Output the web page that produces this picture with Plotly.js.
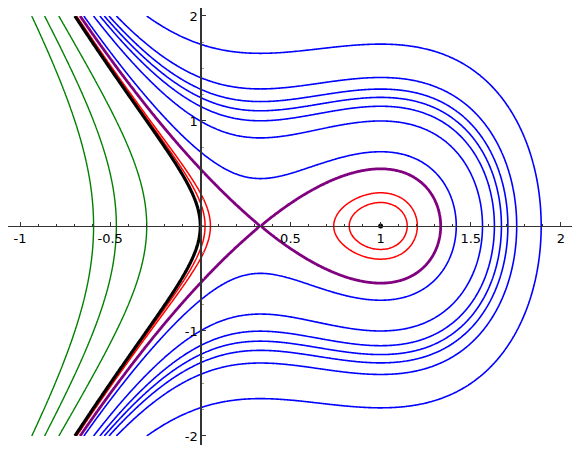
<!DOCTYPE html>
<html>
<head>
<meta charset="utf-8">
<script src="https://cdn.plot.ly/plotly-3.0.1.min.js"></script>
<style>html,body{margin:0;padding:0;background:#fff;}#plot{width:581px;height:454px;}</style>
</head>
<body>
<div id="plot"></div>
<script>
// Level values of H(x,y) = y^2/2 + x(x-1)^2
const greenLevels = [-1.5, -1.0, -0.5];
const blueLevels = [0.25, 0.5, 0.65, 0.75, 0.85, 1.0, 1.5];
const redLevels = [0.025, 0.05];
const separatrixLevels = [0.1481];
const blackLevels = [0];
const centerX = [1];
const centerY = [0];
const xTickVals = [-1, -0.5, 0.5, 1, 1.5, 2];
const xTickText = ['-1', '-0.5', '0.5', '1', '1.5', '2'];
const yTickVals = [-2, -1, 1, 2];
const yTickText = ['-2', '-1', '1', '2'];
const xDomain = [-1, 2];
const yDomain = [-2, 2];

function H(x, y) { return y * y / 2 + x * (x - 1) * (x - 1); }

const nx = 450, ny = 400;
const xs = [], ys = [];
for (let i = 0; i <= nx; i++) xs.push(xDomain[0] + (xDomain[1] - xDomain[0]) * i / nx);
for (let j = 0; j <= ny; j++) ys.push(yDomain[0] + (yDomain[1] - yDomain[0]) * j / ny);
const Z = ys.map(y => xs.map(x => H(x, y)));

function levelTrace(level, color, width) {
  return {
    type: 'contour', x: xs, y: ys, z: Z,
    autocontour: false,
    contours: {coloring: 'lines', start: level, end: level, size: 1, showlabels: false},
    line: {width: width, smoothing: 1},
    colorscale: [[0, color], [1, color]],
    showscale: false, hoverinfo: 'skip'
  };
}

const traces = [];
blueLevels.forEach(l => traces.push(levelTrace(l, '#0000ff', 1.6)));
greenLevels.forEach(l => traces.push(levelTrace(l, '#008000', 1.4)));
redLevels.forEach(l => traces.push(levelTrace(l, '#ff0000', 1.5)));
separatrixLevels.forEach(l => traces.push(levelTrace(l, '#800080', 2.8)));
blackLevels.forEach(l => traces.push(levelTrace(l, '#000000', 3.2)));
traces.push({type: 'scatter', mode: 'markers', x: centerX, y: centerY,
  marker: {color: '#000', size: 5}, hoverinfo: 'skip', showlegend: false});

const xr = [-1.0666, 2.0616];
const yr = [-2.086, 2.076];
const axisColor = '#333';

const layout = {
  width: 581, height: 454,
  margin: {l: 8, r: 9, t: 8, b: 9},
  paper_bgcolor: '#fff', plot_bgcolor: '#fff',
  showlegend: false,
  xaxis: {
    range: xr, anchor: 'free', position: (0 - yr[0]) / (yr[1] - yr[0]),
    showgrid: false, zeroline: false, showline: true, linecolor: axisColor, linewidth: 1.4,
    tickmode: 'array', tickvals: xTickVals, ticktext: xTickText,
    ticks: 'inside', ticklen: 4, tickwidth: 1, tickcolor: axisColor,
    minor: {ticks: 'inside', tickmode: 'linear', tick0: 0, dtick: 0.1, ticklen: 2, tickwidth: 1, tickcolor: axisColor, showgrid: false},
    tickfont: {family: 'DejaVu Sans', size: 13, color: '#000'},
    automargin: false, fixedrange: true
  },
  yaxis: {
    range: yr, anchor: 'free', position: (0 - xr[0]) / (xr[1] - xr[0]),
    showgrid: false, zeroline: false, showline: true, linecolor: axisColor, linewidth: 1.4,
    tickmode: 'array', tickvals: yTickVals, ticktext: yTickText,
    ticks: 'inside', ticklen: 4, tickwidth: 1, tickcolor: axisColor,
    minor: {ticks: 'inside', tickmode: 'linear', tick0: 0, dtick: 0.25, ticklen: 2, tickwidth: 1, tickcolor: '#999', showgrid: false},
    tickfont: {family: 'DejaVu Sans', size: 13, color: '#000'},
    automargin: false, fixedrange: true
  }
};

Plotly.newPlot('plot', traces, layout, {staticPlot: true, displayModeBar: false});
</script>
</body>
</html>
